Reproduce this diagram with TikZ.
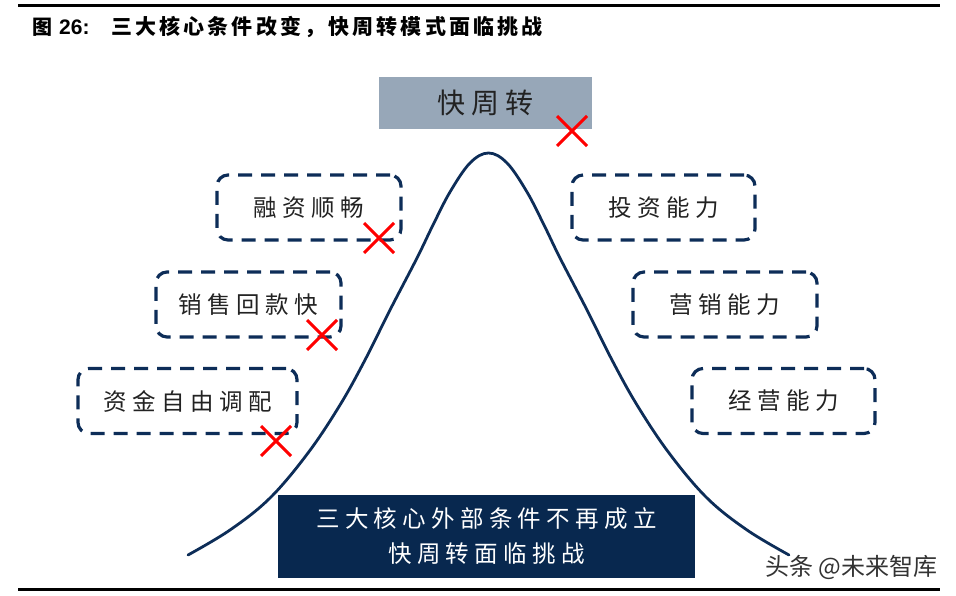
\documentclass[tikz,border=0pt]{standalone}
\usepackage{fontspec}
\setmainfont{Liberation Sans}
\newfontfamily\cjk{Noto Sans CJK SC}
\newfontfamily\cjkbox{Noto Sans CJK SC}[LetterSpace=23]
\newfontfamily\cjkbottom{Noto Sans CJK SC}[LetterSpace=22.5]
\newfontfamily\cjktop{Noto Sans CJK SC}[LetterSpace=20]
\newfontfamily\cjktitle{Noto Sans CJK SC}[LetterSpace=15, BoldFeatures={LetterSpace=15}]
\definecolor{navy}{HTML}{0D2D58}
\definecolor{navyfill}{HTML}{08284F}
\definecolor{topfill}{HTML}{97A7B8}
\definecolor{txt}{HTML}{222222}
\definecolor{wm}{HTML}{333333}
\tikzset{
  dbox/.style={draw=navy, line width=3.2pt, dash pattern=on 14pt off 9pt, rounded corners=11pt,
    minimum height=65pt, inner sep=0pt, text=txt, font=\cjkbox\fontsize{23.5pt}{27pt}\selectfont},
  topbox/.style={fill=topfill, minimum width=213pt, minimum height=52pt, inner sep=0pt,
    text=txt, font=\cjktop\fontsize{28pt}{31pt}\selectfont},
  bottombox/.style={fill=navyfill, minimum width=417pt, minimum height=83pt, inner sep=0pt,
    text=white, align=center, font=\cjkbottom\fontsize{23.5pt}{35pt}\selectfont},
  bell/.style={draw=navy, line width=2.8pt, line cap=round},
  rulebar/.style={line width=3pt, black},
  xmark/.pic={\draw[red, line width=3pt] (-15,-15) -- (15,15) (-15,15) -- (15,-15);}
}
\begin{document}
\begin{tikzpicture}[x=1pt, y=-1pt]
\useasboundingbox (0,0) rectangle (956,596);
% rules
\coordinate (r1a) at (18,5.5); \coordinate (r1b) at (940,5.5);
\coordinate (r2a) at (18,589); \coordinate (r2b) at (940,589);
\draw[rulebar] (r1a) -- (r1b);
\draw[rulebar] (r2a) -- (r2b);
% title
\node[anchor=west, inner sep=0pt, font=\cjk\bfseries\fontsize{20pt}{24pt}\selectfont] (t1) at (32,27) {图};
\node[anchor=west, inner sep=0pt, font=\bfseries\fontsize{21pt}{24pt}\selectfont] (t2) at (59,27) {26:};
\node[anchor=west, inner sep=0pt, font=\cjktitle\bfseries\fontsize{21pt}{24pt}\selectfont] (t3) at (111,27) {三大核心条件改变，快周转模式面临挑战};
% bell curve
\draw[bell] plot[smooth, tension=0.6] coordinates {
 (188,555) (230,530) (270,498) (308,453) (340,405) (365,360) (390,310) (417,258)
 (433,225) (450,192) (470,163) (488.5,153) (507,163) (527,192) (544,225) (560,258)
 (587,310) (612,360) (637,405) (669,453) (707,498) (747,530) (789,555)};
% top box
\node[topbox] (top) at (485.5,103) {快周转};
% dashed boxes
\node[dbox, minimum width=184pt] (rz) at (309,207.5) {融资顺畅};
\node[dbox, minimum width=185pt] (xs) at (248.5,304.5) {销售回款快};
\node[dbox, minimum width=219pt] (zj) at (187.5,401) {资金自由调配};
\node[dbox, minimum width=183pt] (tz) at (663.5,207.5) {投资能力};
\node[dbox, minimum width=184pt] (yx) at (725,304.5) {营销能力};
\node[dbox, minimum width=183pt] (jy) at (783.5,401) {经营能力};
% bottom box
\node[bottombox] (bot) at (486.5,536.5) {三大核心外部条件不再成立\\快周转面临挑战};
% red crosses
\pic at (572,131) {xmark};
\pic at (379,238) {xmark};
\pic at (322,335) {xmark};
\pic at (276,441) {xmark};
% watermark
\node[anchor=west, inner sep=0pt, text=wm, font=\cjk\fontsize{24pt}{28pt}\selectfont] (wm) at (765,567) {头条 @未来智库};
\end{tikzpicture}
\end{document}
